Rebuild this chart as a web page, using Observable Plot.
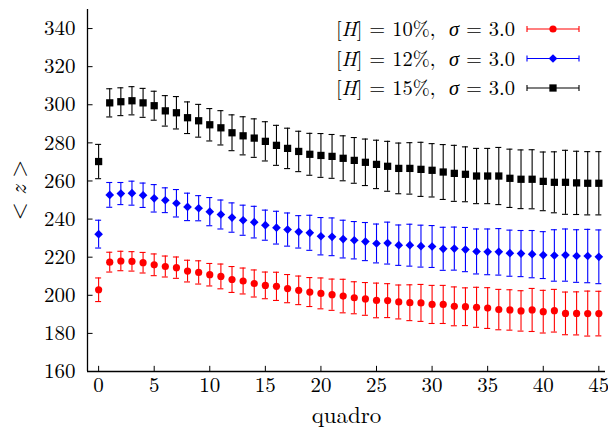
<!DOCTYPE html>
<html>
<head>
<meta charset="utf-8">
<script src="https://cdn.jsdelivr.net/npm/d3@7"></script>
<script src="https://cdn.jsdelivr.net/npm/@observablehq/plot@0.6"></script>
<style>
  html, body { margin: 0; padding: 0; background: #fff; }
  #chart { width: 608px; height: 432px; }
</style>
</head>
<body>
<div id="chart"></div>
<script>
const quadro = [0,1,2,3,4,5,6,7,8,9,10,11,12,13,14,15,16,17,18,19,20,21,22,23,24,25,26,27,28,29,30,31,32,33,34,35,36,37,38,39,40,41,42,43,44,45];

const z10 = [202.9,217.4,218.0,217.8,217.1,216.0,215.1,214.5,212.7,212.0,210.8,209.9,208.3,207.5,206.2,205.2,204.7,203.5,202.6,201.7,201.0,200.3,199.6,198.7,198.1,197.3,197.2,196.5,196.1,196.0,195.2,195.2,194.2,194.0,193.7,193.3,192.5,192.3,191.8,192.3,191.4,191.9,190.5,190.5,190.4,190.4];
const e10 = [6.2,5.2,5.1,5.1,5.4,5.7,5.5,5.6,5.7,6.1,5.9,6.5,6.8,6.8,7.1,7.0,7.4,7.4,7.5,7.6,8.1,8.2,8.8,8.4,8.6,9.1,8.9,8.9,9.4,9.7,10.0,10.0,10.2,9.9,10.5,10.7,10.6,10.6,10.6,11.3,11.2,11.2,11.2,11.3,11.8,11.7];

const z12 = [232.1,252.7,253.4,253.6,252.5,250.9,249.9,248.3,246.4,245.7,243.9,242.4,240.8,239.4,238.4,236.8,235.5,234.5,233.3,232.8,231.0,230.7,229.5,228.9,228.2,227.2,227.4,226.3,226.3,225.8,225.6,224.4,224.5,224.0,223.0,222.8,222.8,222.1,221.9,221.6,221.1,220.9,221.1,220.6,220.6,220.2];
const e12 = [7.3,6.5,5.8,6.3,6.4,7.2,6.5,7.2,7.2,6.6,7.4,7.6,7.7,7.9,8.3,7.9,8.6,8.7,8.5,9.2,9.8,9.9,9.9,9.8,10.0,10.2,11.0,10.6,11.0,11.0,11.0,11.3,11.3,11.6,11.8,12.0,12.2,12.1,12.1,12.4,12.3,13.5,13.7,13.8,14.0,14.1];

const z15 = [270.2,301.0,301.6,302.1,301.0,299.5,296.8,295.8,293.2,291.6,289.5,287.9,285.3,283.7,282.5,280.8,278.7,277.1,275.5,274.0,273.4,272.9,271.9,270.8,269.8,268.7,267.7,266.6,266.6,266.1,265.6,264.7,264.0,263.5,262.6,262.6,262.6,261.4,260.9,260.9,259.8,259.3,259.3,259.0,258.8,258.8];
const e15 = [9.0,7.4,7.3,7.4,7.6,7.6,8.0,8.5,8.3,8.6,8.5,9.0,9.4,10.0,10.1,10.3,10.5,10.6,10.6,11.0,11.5,11.5,11.8,12.0,12.2,12.7,13.1,13.3,13.5,14.2,14.0,14.4,14.7,14.4,14.5,14.5,15.0,15.3,15.4,15.5,15.4,16.0,16.8,16.6,16.6,16.6];

const seriesNames = ["10%", "12%", "15%"];
const seriesColors = ["#ff0000", "#0000ff", "#000000"];
const seriesSymbols = ["circle", "diamond2", "square"];
const xTicks = [0,5,10,15,20,25,30,35,40,45];
const yTicks = [160,180,200,220,240,260,280,300,320,340];
const xLabel = "quadro";
const sigma = "3.0";

const XMIN = -1, XMAX = 45.6, YMIN = 160, YMAX = 350;
const FONT = "Latin Modern Roman";

const values = [z10, z12, z15];
const errors = [e10, e12, e15];
const rows = [];
values.forEach((vals, s) => {
  vals.forEach((v, i) => rows.push({x: quadro[i], v, e: errors[s][i], s}));
});

const marks = [];
seriesNames.forEach((name, s) => {
  const data = rows.filter(d => d.s === s);
  const c = seriesColors[s];
  marks.push(Plot.ruleX(data, {x: "x", y1: d => d.v - d.e, y2: d => d.v + d.e, stroke: c, strokeWidth: 1.1}));
  marks.push(Plot.ruleY(data, {y: d => d.v - d.e, x1: d => d.x - 0.27, x2: d => d.x + 0.27, stroke: c, strokeWidth: 1.1}));
  marks.push(Plot.ruleY(data, {y: d => d.v + d.e, x1: d => d.x - 0.27, x2: d => d.x + 0.27, stroke: c, strokeWidth: 1.1}));
  marks.push(Plot.dot(data, {x: "x", y: "v", symbol: seriesSymbols[s], fill: c, stroke: "none", r: s === 0 ? 3.6 : (s === 1 ? 3.9 : 4.1)}));
});

const chart = Plot.plot({
  width: 608,
  height: 432,
  marginLeft: 87,
  marginRight: 3,
  marginTop: 9,
  marginBottom: 61,
  style: {fontFamily: FONT, fontSize: "21px", color: "#000", background: "#fff"},
  x: {domain: [XMIN, XMAX]},
  y: {domain: [YMIN, YMAX]},
  marks: [
    Plot.ruleY(yTicks, {y: d => d, x1: XMIN, x2: XMIN + 0.5, stroke: "#000", strokeWidth: 1}),
    Plot.ruleX(xTicks, {x: d => d, y1: YMIN, y2: YMIN + 2.7, stroke: "#000", strokeWidth: 1}),
    Plot.axisY(yTicks, {tickSize: 0, tickPadding: 12, label: null, fontSize: 21, fill: "#000"}),
    Plot.axisX(xTicks, {tickSize: 0, tickPadding: 6, label: null, fontSize: 21, fill: "#000"}),
    ...marks,
    Plot.ruleX([XMIN], {stroke: "#000", strokeWidth: 1.3}),
    Plot.ruleY([YMIN], {stroke: "#000", strokeWidth: 1.3}),
    Plot.text([xLabel], {frameAnchor: "bottom", dy: 51, fontSize: 23, fill: "#000"})
  ]
});
document.getElementById("chart").appendChild(chart);

const svg = d3.select(chart);
const ylab = svg.append("text")
  .attr("transform", "translate(26,190) rotate(-90)")
  .attr("text-anchor", "middle")
  .attr("font-size", 23)
  .attr("fill", "#000");
ylab.append("tspan").text("< ");
ylab.append("tspan").attr("font-style", "italic").text("z");
ylab.append("tspan").text(" >");

const leg = svg.append("g");
seriesNames.forEach((name, s) => {
  const y = 29 + 29.5 * s;
  const t = leg.append("text")
    .attr("x", 515).attr("y", y).attr("dy", "0.35em")
    .attr("text-anchor", "end").attr("font-size", 20.5).attr("fill", "#000");
  t.append("tspan").text("[");
  t.append("tspan").attr("font-style", "italic").text("H");
  t.append("tspan").text("] = " + name + ",  ");
  t.append("tspan").attr("font-style", "italic").text("σ");
  t.append("tspan").text(" = " + sigma);
  const c = seriesColors[s];
  leg.append("line").attr("x1", 527).attr("x2", 579).attr("y1", y).attr("y2", y).attr("stroke", c).attr("stroke-width", 1.1);
  leg.append("line").attr("x1", 527).attr("x2", 527).attr("y1", y - 3).attr("y2", y + 3).attr("stroke", c).attr("stroke-width", 1.1);
  leg.append("line").attr("x1", 579).attr("x2", 579).attr("y1", y - 3).attr("y2", y + 3).attr("stroke", c).attr("stroke-width", 1.1);
  const sym = d3.symbol().type(s === 0 ? d3.symbolCircle : (s === 1 ? d3.symbolDiamond2 : d3.symbolSquare))
    .size(Math.PI * Math.pow(s === 0 ? 3.6 : (s === 1 ? 3.9 : 4.1), 2));
  leg.append("path").attr("d", sym()).attr("transform", `translate(553,${y})`).attr("fill", c);
});
svg.attr("font-family", FONT);
svg.selectAll("g, text").attr("font-family", FONT).style("font-family", FONT);
</script>
</body>
</html>
